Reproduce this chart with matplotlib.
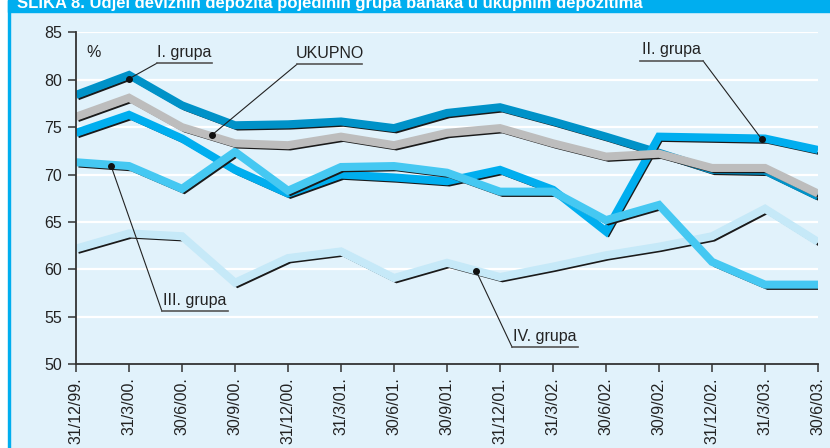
import matplotlib.pyplot as plt
import matplotlib.patheffects as pe
from matplotlib.patches import Rectangle

plt.rcParams['font.family'] = ['Liberation Sans', 'DejaVu Sans']

dates = ['31/12/99.', '31/3/00.', '30/6/00.', '30/9/00.', '31/12/00.', '31/3/01.',
         '30/6/01.', '30/9/01.', '31/12/01.', '31/3/02.', '30/6/02.', '30/9/02.',
         '31/12/02.', '31/3/03.', '30/6/03.']

grupa_1 = [78.4, 80.5, 77.3, 75.2, 75.3, 75.6, 74.9, 76.5, 77.1, 75.6, 74.0, 72.3, 70.5, 70.4, 67.7]
ukupno = [76.1, 78.1, 75.0, 73.3, 73.1, 74.0, 73.1, 74.4, 74.9, 73.3, 71.9, 72.2, 70.7, 70.7, 68.0]
grupa_2 = [74.4, 76.3, 73.8, 70.5, 68.0, 70.0, 69.7, 69.3, 70.5, 68.4, 64.0, 74.0, 73.9, 73.8, 72.6]
grupa_3 = [71.3, 70.9, 68.5, 72.4, 68.3, 70.8, 70.9, 70.2, 68.2, 68.2, 65.2, 66.8, 60.8, 58.4, 58.4]
grupa_4 = [62.2, 63.8, 63.5, 58.6, 61.2, 61.9, 59.1, 60.7, 59.2, 60.3, 61.5, 62.4, 63.5, 66.4, 62.9]

title = 'SLIKA 8. Udjel deviznih depozita pojedinih grupa banaka u ukupnim depozitima'

bg = '#e1f2fb'
fig = plt.figure(figsize=(8.3, 4.48), dpi=100)

# panel background, header band and left border
fig.patches.append(Rectangle((10 / 830, 0), 1, 1, transform=fig.transFigure, color=bg, zorder=-3))
fig.patches.append(Rectangle((8 / 830, 1 - 12 / 448), 1, 12 / 448, transform=fig.transFigure,
                             color='#00aeef', zorder=-2))
fig.patches.append(Rectangle((8 / 830, 0), 2.2 / 830, 1, transform=fig.transFigure,
                             color='#00aeef', zorder=-2))
# title sits partly above the top edge, as in the original scan
fig.text(17 / 830, 1 - 8 / 448, title, color='white', fontsize=12, fontweight='bold',
         va='baseline', ha='left')

ax = fig.add_axes([76 / 830, (448 - 364.3) / 448, 742 / 830, 332 / 448])
ax.set_facecolor('none')
x = list(range(len(dates)))

shadow = [pe.SimpleLineShadow(offset=(1.8, -2.9), shadow_color='#1a1a1a', alpha=1.0, linewidth=1.8),
          pe.Normal()]
series = [(grupa_4, '#c6e9f8'), (grupa_1, '#0092c8'), (grupa_2, '#00aeef'),
          (grupa_3, '#45c8f2'), (ukupno, '#bdbdbd')]
for vals, col in series:
    ax.plot(x, vals, color=col, lw=5.8, solid_joinstyle='miter', solid_capstyle='butt',
            path_effects=shadow, zorder=3)

# labels with leader lines: (text, dot x, dot y, underline x0, underline x1, underline y)
labels = [('I. grupa', 1.0, 80.1, 1.53, 2.57, 81.75),
          ('UKUPNO', 2.56, 74.15, 4.17, 5.40, 81.63),
          ('II. grupa', 12.94, 73.72, 10.64, 11.83, 82.0),
          ('III. grupa', 0.66, 70.94, 1.62, 2.87, 55.62),
          ('IV. grupa', 7.55, 59.84, 8.23, 9.47, 51.79)]
for txt, dx, dy, u0, u1, uy in labels:
    start = u1 if txt == 'II. grupa' else u0
    ax.plot([dx, start], [dy, uy], color='#222222', lw=0.8, zorder=5)
    ax.plot([u0, u1], [uy, uy], color='#555555', lw=1.2, zorder=5)
    ax.plot(dx, dy, 'o', color='#111111', ms=4, zorder=6)
    ax.text((u0 + u1) / 2, uy + 0.35, txt, ha='center', va='bottom', fontsize=11.5, color='#222222')

ax.text(0.2, 82.9, '%', fontsize=11.5, color='#222222', va='center')

ax.set_xlim(0, 14)
ax.set_ylim(50, 85)
ax.set_yticks(range(50, 90, 5))
ax.set_xticks(x)
ax.set_xticklabels(dates, rotation=90)
for y in range(55, 90, 5):
    ax.axhline(y, color='white', lw=1.6, zorder=1)
ax.spines['top'].set_visible(False)
ax.spines['right'].set_visible(False)
for s in ['left', 'bottom']:
    ax.spines[s].set_color('#333333')
    ax.spines[s].set_linewidth(1.3)
    ax.spines[s].set_zorder(4)
ax.tick_params(direction='out', length=6, width=1.1, color='#333333', labelsize=11.5,
               labelcolor='#222222')
ax.tick_params(axis='y', pad=4)

fig.savefig('out.png', dpi=100)
